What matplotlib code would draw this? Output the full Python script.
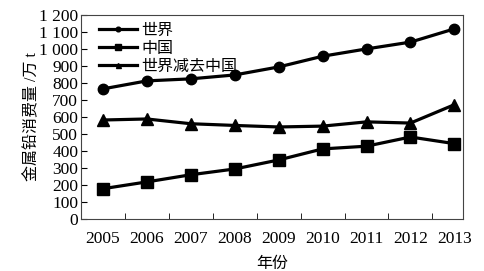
import numpy as np
import matplotlib
matplotlib.use("Agg")
import matplotlib.pyplot as plt
from matplotlib.ticker import FuncFormatter, FixedLocator

plt.rcParams['font.family'] = ['Liberation Serif', 'Noto Sans CJK SC']

years = ['2005', '2006', '2007', '2008', '2009', '2010', '2011', '2012', '2013']
world = [765, 812, 824, 847, 894, 957, 1000, 1040, 1118]
china = [178, 218, 260, 294, 347, 412, 428, 482, 443]
rest = [582, 588, 560, 550, 541, 546, 571, 564, 672]

x = np.arange(len(years))

fig = plt.figure(figsize=(4.85, 2.71), dpi=100)
ax = fig.add_axes([0.167, 0.192, 0.788, 0.753])

ax.plot(x, world, '-o', color='black', lw=2.3, ms=7.5, label='世界')
ax.plot(x, china, '-s', color='black', lw=2.3, ms=8.5, label='中国')
ax.plot(x, rest, '-^', color='black', lw=2.3, ms=8, label='世界减去中国')

ax.set_xlim(-0.5, 8.2)
ax.set_ylim(0, 1200)
ax.set_yticks(np.arange(0, 1201, 100))
ax.yaxis.set_major_formatter(FuncFormatter(lambda v, p: f'{int(v):,}'.replace(',', ' ')))
ax.set_xticks(x)
ax.set_xticklabels(years)
ax.xaxis.set_minor_locator(FixedLocator(x[:-1] + 0.5))
ax.tick_params(axis='x', which='major', length=0, labelsize=12.5, pad=9)
ax.tick_params(axis='x', which='minor', direction='in', length=4)
ax.tick_params(axis='y', direction='in', length=4, labelsize=12.5, pad=2)
for s in ax.spines.values():
    s.set_color('#444444')
    s.set_linewidth(0.8)

ax.set_ylabel('金属铅消费量 /万 t', fontsize=11.5, labelpad=-1)
ax.set_xlabel('年份', fontsize=11.5, labelpad=6)

leg = ax.legend(loc='upper left', frameon=False, fontsize=11.5, markerscale=0.45,
                handlelength=2.4, handletextpad=0.3, labelspacing=0.12,
                borderaxespad=0.1, bbox_to_anchor=(0.025, 1.0))

fig.savefig('out.png', dpi=100)
